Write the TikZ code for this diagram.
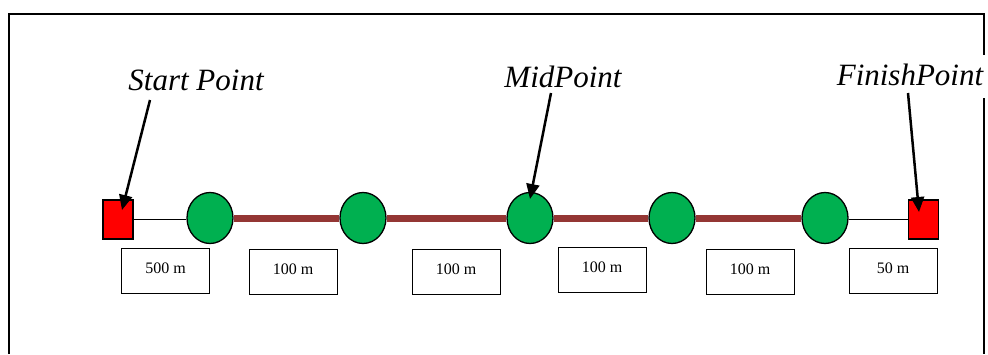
\documentclass[tikz,border=0pt]{standalone}
\usepackage{fontspec}
\setmainfont{Liberation Serif}
\usetikzlibrary{arrows.meta,shapes.geometric}
\definecolor{gr}{HTML}{00B050}
\definecolor{rd}{HTML}{FF0000}
\definecolor{br}{HTML}{943634}
\tikzset{
  flag/.style={draw=black,line width=1.4pt,fill=rd,minimum width=30pt,minimum height=39pt,inner sep=0pt},
  stop/.style={ellipse,draw=black,line width=1.3pt,fill=gr,minimum width=46pt,minimum height=51pt,inner sep=0pt},
  dist/.style={draw=black,line width=1pt,fill=white,minimum width=88pt,minimum height=45pt,inner sep=0pt,
     font=\fontsize{16}{18}\selectfont,text height=11pt,text depth=6pt},
  lbl/.style={font=\fontsize{31}{36}\selectfont\itshape,inner sep=0pt,anchor=base},
  pointer/.style={line width=2.5pt,-{Triangle[length=15pt,width=13pt]}},
  thin/.style={line width=1pt,black},
  track/.style={line width=7pt,br}
}
\begin{document}
\begin{tikzpicture}[x=1pt,y=-1pt]
\useasboundingbox (0,0) rectangle (988,354);
% frame
\draw[line width=2pt] (9,354) -- (9,14) -- (984,14) -- (984,55);
\draw[line width=2pt] (984,98) -- (984,354);
% nodes
\node[flag] (s) at (118,219.5) {};
\node[flag] (f) at (923.5,219.5) {};
\node[stop] (c1) at (210,218) {};
\node[stop] (c2) at (363,218) {};
\node[stop] (c3) at (530,218) {};
\node[stop] (c4) at (672,218) {};
\node[stop] (c5) at (825,218) {};
% connectors
\draw[thin] (s.east) -- (s.east -| c1.west);
\draw[thin] (f.west -| c5.east) -- (f.west);
\draw[track] (c1) -- (c2);
\draw[track] (c2) -- (c3);
\draw[track] (c3) -- (c4);
\draw[track] (c4) -- (c5);
% distance boxes
\node[dist] (d1) at (165.5,270.5) {500 m};
\node[dist] (d2) at (293,271.5) {100 m};
\node[dist] (d3) at (456,271.5) {100 m};
\node[dist] (d4) at (602,270) {100 m};
\node[dist] (d5) at (750,271.5) {100 m};
\node[dist] (d6) at (893,270.5) {50 m};
% labels
\node[lbl] (ls) at (196,90) {Start Point};
\node[lbl] (lm) at (563,87) {MidPoint};
\node[lbl] (lf) at (910,85) {FinishPoint};
% pointers
\coordinate (ps) at (150,100);
\coordinate (ts) at (122,210);
\coordinate (pm) at (551,93);
\coordinate (tm) at (530,199);
\coordinate (pf) at (908,93);
\coordinate (tf) at (919,212);
\draw[pointer] (ps) -- (ts);
\draw[pointer] (pm) -- (tm);
\draw[pointer] (pf) -- (tf);
\end{tikzpicture}
\end{document}
